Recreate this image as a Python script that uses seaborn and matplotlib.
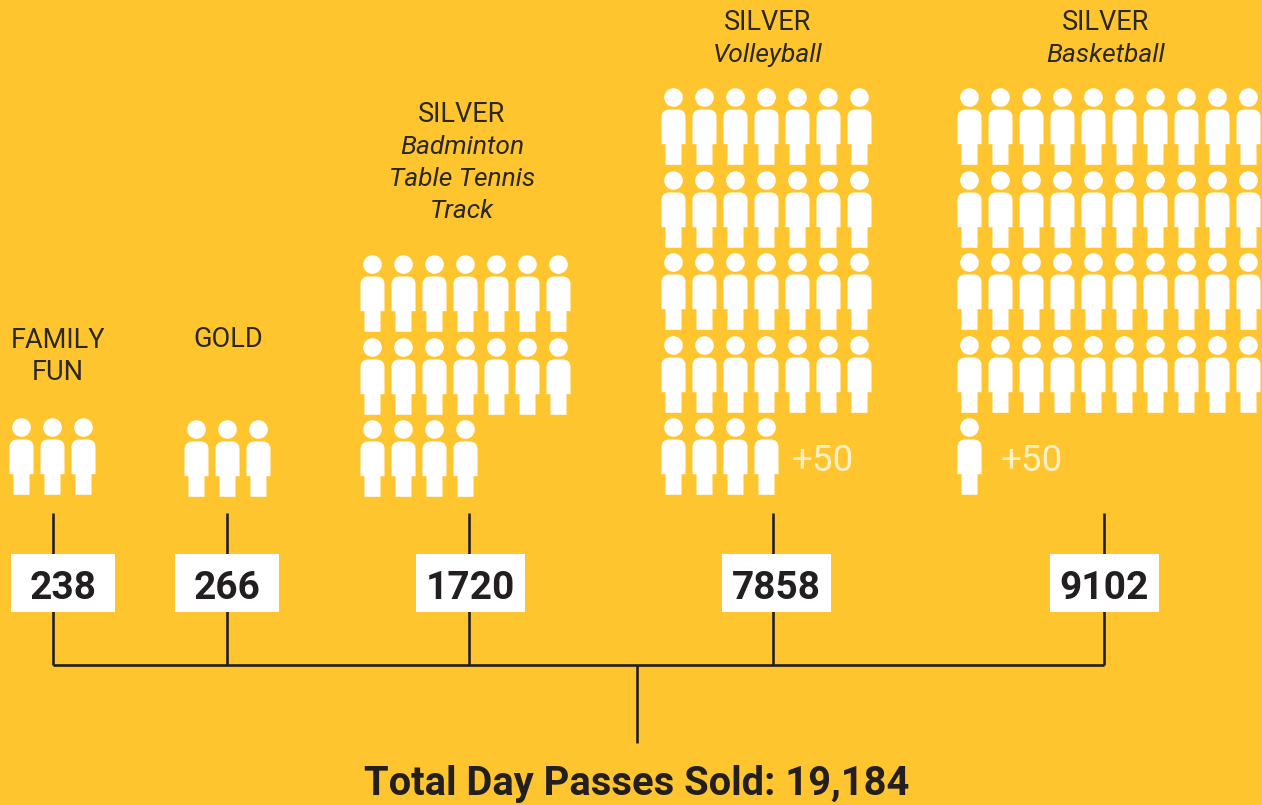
import matplotlib
matplotlib.use('Agg')
import matplotlib.pyplot as plt
import matplotlib.patches as mpatches
from matplotlib.path import Path
import pandas as pd
import seaborn as sns

# --- Data ---
pass_types = [['FAMILY', 'FUN'], ['GOLD'], ['SILVER'], ['SILVER'], ['SILVER']]
sports = [[], [], ['Badminton', 'Table Tennis', 'Track'], ['Volleyball'], ['Basketball']]
passes_sold = [238, 266, 1720, 7858, 9102]
icon_counts = [3, 3, 18, 32, 41]
extras = ['', '', '', '+50', '+50']
total_label = 'Total Day Passes Sold: 19,184'

# --- Layout, in reference pixels ---
BG = '#FEC52E'
DARK = '#231F20'
WIDTH, HEIGHT = 1262, 805
PITCH_X, PITCH_Y = 31, 82.5
LINE_PITCH = 32
per_row = [3, 3, 7, 7, 10]
first_x = [20.7, 195.7, 372, 673, 969]
bottom_y = [456.2, 458.2, 458.2, 456.2, 456.2]   # centre of the lowest icon row
stem_x = [53, 226.7, 469.2, 772.7, 1104.2]
box_left = [11, 175, 416, 722, 1050]
box_width = [104, 104, 109, 109, 109]
label_x = [58, 228, 462, 768, 1106]
label_y = [337, 336, 111, 19, 19]      # centre of the first label line
extra_x = [0, 0, 0, 823, 1032]


# person glyph, centred on its own box so the marker scaling stays predictable
def person_marker():
    head = Path.circle((0, 29), 9.3)
    body = Path(
        [(-12, 9), (-12, 17), (-4, 17), (4, 17), (12, 17), (12, 9),
         (12, -17.7), (8, -17.7), (8, -38.3), (-8, -38.3), (-8, -17.7), (-12, -17.7), (-12, 9)],
        [Path.MOVETO, Path.CURVE3, Path.CURVE3, Path.LINETO, Path.CURVE3, Path.CURVE3,
         Path.LINETO, Path.LINETO, Path.LINETO, Path.LINETO, Path.LINETO, Path.LINETO,
         Path.CLOSEPOLY])
    return Path.make_compound_path(head, body)


# work out one row of the table per icon
rows = []
for g, count in enumerate(icon_counts):
    n_rows = (count - 1) // per_row[g] + 1
    for i in range(count):
        row = i // per_row[g]
        rows.append({
            'x': first_x[g] + (i % per_row[g]) * PITCH_X,
            'y': bottom_y[g] - (n_rows - 1 - row) * PITCH_Y,
        })
icons = pd.DataFrame(rows)

sns.set_theme(style='white')
plt.rcParams['font.family'] = ['Roboto', 'DejaVu Sans']

fig, ax = plt.subplots(figsize=(WIDTH / 100, HEIGHT / 100), dpi=100)
fig.subplots_adjust(0, 0, 1, 1)
fig.patch.set_facecolor(BG)
ax.set_facecolor(BG)

# marker path gets normalised to its largest vertex, so height 76.6px maps to size
marker_pts = 76.6 * 72 / 100
sns.scatterplot(data=icons, x='x', y='y', marker=person_marker(), s=marker_pts ** 2,
                color='white', linewidth=0, legend=False, ax=ax)

# bracket
ax.plot([stem_x[0], stem_x[-1]], [664.5, 664.5], color=DARK, lw=1.9, solid_capstyle='butt', zorder=1)
ax.vlines(stem_x, 513, 664.5, color=DARK, lw=1.9, zorder=1)
ax.vlines(636.7, 664.5, 743, color=DARK, lw=1.9, zorder=1)

for g, value in enumerate(passes_sold):
    ax.add_patch(mpatches.Rectangle((box_left[g], 554), box_width[g], 58,
                                    facecolor='white', edgecolor='none', zorder=2))
    ax.text(box_left[g] + box_width[g] / 2, 588, str(value), ha='center', va='center',
            fontsize=28, fontweight='bold', color=DARK, zorder=3)

    y = label_y[g]
    for line in pass_types[g]:
        ax.text(label_x[g], y, line, ha='center', va='center_baseline',
                fontsize=19.5, color='#2B2723')
        y += LINE_PITCH
    for line in sports[g]:
        ax.text(label_x[g], y + 1.5, line, ha='center', va='center_baseline',
                fontsize=19, fontstyle='italic', color='#2B2723')
        y += LINE_PITCH

    if extras[g]:
        ax.text(extra_x[g], 461, extras[g], ha='center', va='center',
                fontsize=26.5, color='#FFF0C8')

ax.text(637, 784, total_label, ha='center', va='center', fontsize=28.7,
        fontweight='bold', color=DARK)

ax.set_xlim(0, WIDTH)
ax.set_ylim(HEIGHT, 0)
ax.axis('off')

fig.savefig('out.png', dpi=100, facecolor=BG)
